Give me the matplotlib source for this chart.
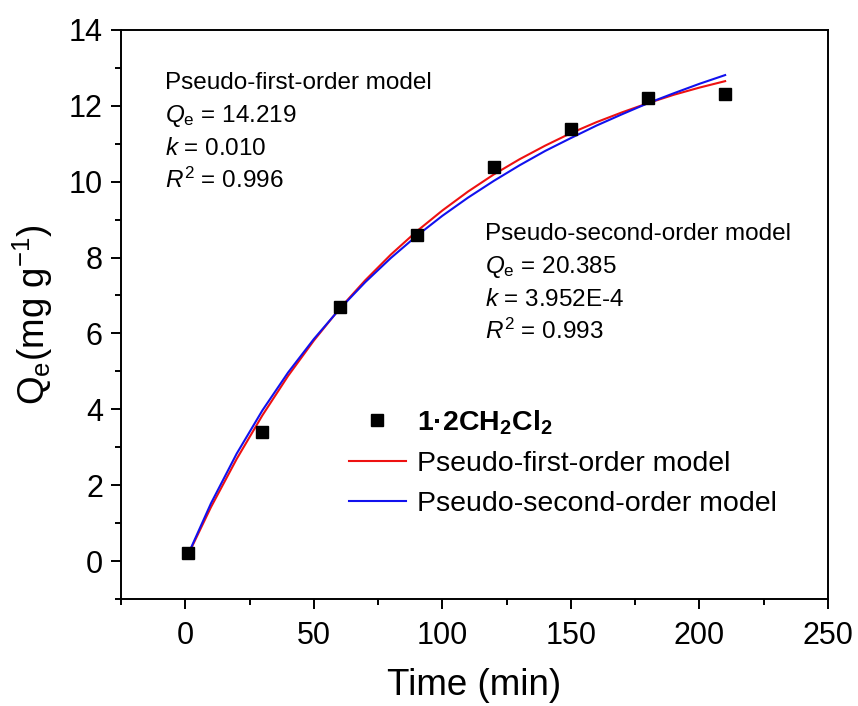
import numpy as np
import matplotlib
matplotlib.use("Agg")
import matplotlib.pyplot as plt
from matplotlib.ticker import MultipleLocator

plt.rcParams['font.family'] = ['Liberation Sans', 'DejaVu Sans']
plt.rcParams['mathtext.fontset'] = 'custom'
plt.rcParams['mathtext.rm'] = 'Liberation Sans'
plt.rcParams['mathtext.it'] = 'Liberation Sans:italic'
plt.rcParams['mathtext.bf'] = 'Liberation Sans:bold'

# experimental points
time_min = [1, 30, 60, 90, 120, 150, 180, 210]
qe_exp = [0.2, 3.4, 6.7, 8.6, 10.4, 11.4, 12.2, 12.3]

# fitted curves
t_fit = [1, 10, 20, 30, 40, 50, 60, 70, 80, 90, 100, 110, 120, 130, 140, 150, 160, 170, 180, 190, 200, 210]
q_pfo = [0.15, 1.42, 2.69, 3.84, 4.88, 5.81, 6.65, 7.40, 8.08, 8.69, 9.24, 9.74, 10.19, 10.59,
         10.95, 11.28, 11.57, 11.83, 12.07, 12.29, 12.48, 12.65]
q_pso = [0.16, 1.52, 2.83, 3.97, 4.97, 5.85, 6.64, 7.35, 7.99, 8.57, 9.10, 9.58, 10.02, 10.43,
         10.81, 11.15, 11.48, 11.78, 12.07, 12.33, 12.58, 12.81]

pfo_text = ["Pseudo-first-order model", r"$Q_\mathrm{e}$ = 14.219", r"$k$ = 0.010", r"$R^2$ = 0.996"]
pso_text = ["Pseudo-second-order model", r"$Q_\mathrm{e}$ = 20.385", r"$k$ = 3.952E-4", r"$R^2$ = 0.993"]

fig = plt.figure(figsize=(8.58, 7.06), dpi=100)
ax = fig.add_axes([0.141, 0.1516, 0.824, 0.806])

ax.plot(time_min, qe_exp, 'ks', markersize=9, linestyle='none', label="1·2CH$_\\mathbf{2}$Cl$_\\mathbf{2}$", zorder=3)
ax.plot(t_fit, q_pfo, color='#ee1111', lw=1.5, label="Pseudo-first-order model")
ax.plot(t_fit, q_pso, color='#1111ee', lw=1.5, label="Pseudo-second-order model")

ax.set_xlim(-25, 250)
ax.set_ylim(-1, 14)
ax.xaxis.set_major_locator(MultipleLocator(50))
ax.xaxis.set_minor_locator(MultipleLocator(25))
ax.yaxis.set_major_locator(MultipleLocator(2))
ax.yaxis.set_minor_locator(MultipleLocator(1))
ax.tick_params(which='major', direction='out', length=7, width=1.4, labelsize=22)
ax.tick_params(axis='x', which='major', pad=9)
ax.tick_params(axis='y', which='major', pad=6)
ax.tick_params(which='minor', direction='out', length=4, width=1.4)
for s in ax.spines.values():
    s.set_linewidth(1.4)

ax.set_xlabel("Time (min)", fontsize=26.5, labelpad=12)
ax.set_ylabel(r"Q$_\mathrm{e}$(mg g$^{-1}$)", fontsize=26.5, labelpad=10)

# annotation blocks
for i, s in enumerate(pfo_text):
    ax.text(0.062, (599 - 89 - 33 * i) / 569, s, transform=ax.transAxes, fontsize=17.5, va='baseline')
for i, s in enumerate(pso_text):
    ax.text(0.515, (599 - 240 - 33 * i) / 569, s, transform=ax.transAxes, fontsize=17.5, va='baseline')

leg = ax.legend(loc='upper left', bbox_to_anchor=(0.306, 0.355), frameon=False, fontsize=20.5,
                handlelength=2.0, handletextpad=0.4, labelspacing=0.5, borderaxespad=0)
leg.get_texts()[0].set_fontweight('bold')

fig.savefig("out.png", dpi=100)
